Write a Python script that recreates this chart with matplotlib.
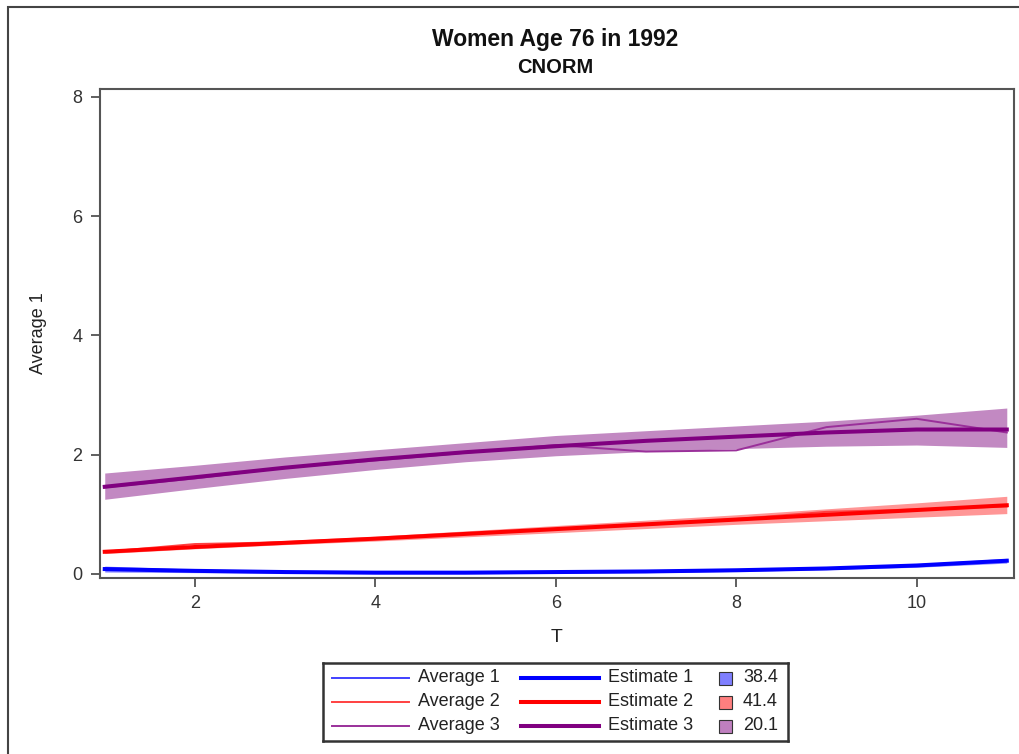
import matplotlib
matplotlib.use('Agg')
import matplotlib.pyplot as plt
import numpy as np
from matplotlib.patches import Rectangle

plt.rcParams['font.family'] = ['Liberation Sans', 'DejaVu Sans']

t = np.arange(1, 12)

# group 1 (blue)
avg1 = [0.09, 0.05, 0.03, 0.02, 0.02, 0.03, 0.04, 0.06, 0.09, 0.14, 0.22]
est1 = [0.08, 0.05, 0.03, 0.02, 0.02, 0.03, 0.04, 0.06, 0.09, 0.14, 0.22]
lo1 = [0.03, 0.02, 0.01, 0.00, 0.00, 0.01, 0.02, 0.04, 0.07, 0.11, 0.18]
hi1 = [0.13, 0.08, 0.05, 0.04, 0.04, 0.05, 0.06, 0.08, 0.11, 0.17, 0.26]

# group 2 (red)
avg2 = [0.37, 0.50, 0.53, 0.59, 0.67, 0.75, 0.82, 0.92, 1.04, 1.08, 1.13]
est2 = [0.37, 0.45, 0.52, 0.59, 0.67, 0.75, 0.83, 0.91, 0.99, 1.07, 1.15]
lo2 = [0.34, 0.42, 0.49, 0.55, 0.62, 0.69, 0.76, 0.83, 0.89, 0.95, 1.01]
hi2 = [0.40, 0.48, 0.56, 0.63, 0.72, 0.81, 0.90, 0.99, 1.09, 1.19, 1.30]

# group 3 (purple)
avg3 = [1.45, 1.60, 1.78, 1.90, 2.03, 2.16, 2.05, 2.07, 2.46, 2.60, 2.37]
est3 = [1.46, 1.62, 1.78, 1.92, 2.04, 2.14, 2.23, 2.30, 2.37, 2.42, 2.42]
lo3 = [1.25, 1.43, 1.60, 1.75, 1.88, 1.98, 2.05, 2.10, 2.14, 2.16, 2.12]
hi3 = [1.69, 1.82, 1.96, 2.08, 2.20, 2.32, 2.40, 2.48, 2.56, 2.66, 2.78]

avg_labels = ['Average 1', 'Average 2', 'Average 3']
est_labels = ['Estimate 1', 'Estimate 2', 'Estimate 3']
shares = ['38.4', '41.4', '20.1']

avg_colors = ['#4040ff', '#ff4040', '#9a309a']
est_colors = ['#0000ff', '#ff0000', '#800080']
band_colors = ['#4040ff', '#ff5050', '#9a3a9a']
patch_colors = ['#7f7fff', '#ff7f7f', '#bf7fbf']

fig = plt.figure(figsize=(10.19, 7.54), dpi=100)
ax = fig.add_axes([0.0981, 0.2334, 0.8970, 0.6486])

groups = [(avg1, est1, lo1, hi1), (avg2, est2, lo2, hi2), (avg3, est3, lo3, hi3)]
for i, (a, e, lo, hi) in enumerate(groups):
    ax.fill_between(t, lo, hi, color=band_colors[i], alpha=0.6, linewidth=0)
    ax.plot(t, a, color=avg_colors[i], linewidth=1.4)
    ax.plot(t, e, color=est_colors[i], linewidth=2.9)

ax.set_xlim(0.947, 11.08)
ax.set_ylim(-0.07, 8.13)
ax.set_xticks([2, 4, 6, 8, 10])
ax.set_yticks([0, 2, 4, 6, 8])
ax.tick_params(labelsize=13, length=6.5, width=1.2, pad=6, color='#444444', labelcolor='#333333')
for s in ax.spines.values():
    s.set_color('#555555')
    s.set_linewidth(1.5)

ax.set_xlabel('T', fontsize=14, labelpad=12, color='#222222')
ax.set_ylabel('Average 1', fontsize=13, labelpad=18, color='#222222')

fig.text(0.545, 0.947, 'Women Age 76 in 1992', ha='center', va='center',
         fontsize=16.5, fontweight='bold', color='#111111')
fig.text(0.545, 0.911, 'CNORM', ha='center', va='center',
         fontsize=14.5, fontweight='bold', color='#111111')

# legend drawn in its own box, pixel-like coordinates
lax = fig.add_axes([323 / 1019, (754 - 741) / 754, 465 / 1019, 78 / 754])
lax.set_xlim(0, 465)
lax.set_ylim(78, 0)
lax.set_xticks([])
lax.set_yticks([])
for s in lax.spines.values():
    s.set_color('#333333')
    s.set_linewidth(1.8)
rows = [15, 39, 63]
for i, ry in enumerate(rows):
    lax.plot([9, 86], [ry, ry], color=avg_colors[i], linewidth=1.4)
    lax.text(95, ry, avg_labels[i], va='center', ha='left', fontsize=13, color='#222222')
    lax.plot([198, 276], [ry, ry], color=est_colors[i], linewidth=2.9)
    lax.text(285, ry, est_labels[i], va='center', ha='left', fontsize=13, color='#222222')
    lax.add_patch(Rectangle((396, ry - 6.5), 13, 13, facecolor=patch_colors[i],
                            edgecolor='#333333', linewidth=0.8))
    lax.text(420, ry, shares[i], va='center', ha='left', fontsize=13, color='#222222')

# outer frame around the whole graph
fig.patches.append(Rectangle((8 / 1019, -0.01), 1.2, 1 - 7 / 754 + 0.01, transform=fig.transFigure,
                             fill=False, edgecolor='#444444', linewidth=1.5))

fig.savefig('out.png', dpi=100)
